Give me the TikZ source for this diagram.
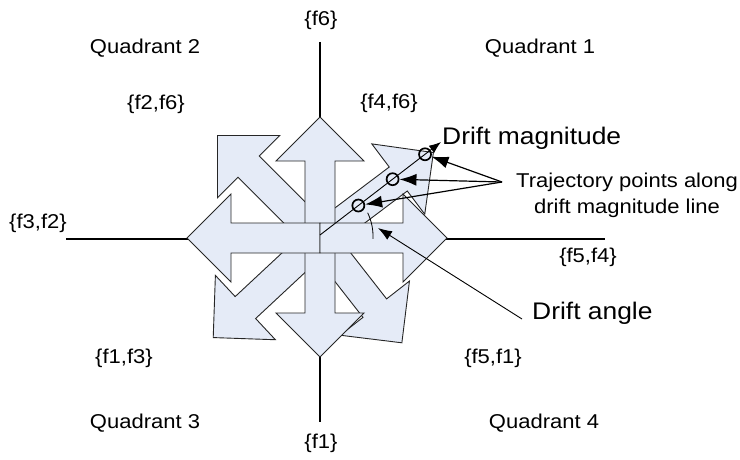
\documentclass[tikz,border=0pt]{standalone}
\usepackage{fontspec}
\setmainfont{Liberation Sans}[FakeStretch=1.1]
\usetikzlibrary{arrows.meta}

\definecolor{arrowfill}{RGB}{229,235,247}

\tikzset{
  blockarrow/.style={draw=black!85,fill=arrowfill,line width=0.9pt,line join=miter},
  axis/.style={line width=1.8pt},
  label/.style={font=\fontsize{20}{26}\selectfont,inner sep=1pt},
  biglabel/.style={font=\fontsize{24}{26}\selectfont,inner sep=1pt},
  point/.style={circle,draw,line width=1.7pt,minimum size=12pt,inner sep=0pt},
  pointer/.style={-{Latex[length=17pt,width=12pt]},line width=1.2pt},
}

\begin{document}
\begin{tikzpicture}[x=1pt,y=-1pt]
  \useasboundingbox (0,0) rectangle (740,460);
  % axes
  \draw[axis] (320,42) -- (320,422);
  \draw[axis] (66,239) -- (605,239);
  % diagonal arrows first, the four axis arrows on top
  \foreach \ang/\len in {135/145,223/146,-52/133,37/142,90/121,270/119,180/133,0/127}
    \draw[blockarrow,shift={(320,238)},rotate=\ang]
      (0,-15) -- (\len-44,-15) -- (\len-44,-44) -- (\len,0)
      -- (\len-44,44) -- (\len-44,15) -- (0,15) -- cycle;

  % axis and quadrant labels
  \node[label] (f6)   at (321,20)  {\{f6\}};
  \node[label] (f1)   at (321,443) {\{f1\}};
  \node[label] (f3f2) at (38,223)  {\{f3,f2\}};
  \node[label] (f5f4) at (588,257) {\{f5,f4\}};
  \node[label] (f2f6) at (156,104) {\{f2,f6\}};
  \node[label] (f4f6) at (389,103) {\{f4,f6\}};
  \node[label] (f1f3) at (124,358) {\{f1,f3\}};
  \node[label] (f5f1) at (493,358) {\{f5,f1\}};
  \node[label] (quad2) at (145,48)  {Quadrant 2};
  \node[label] (quad1) at (540,48)  {Quadrant 1};
  \node[label] (quad3) at (145,423) {Quadrant 3};
  \node[label] (quad4) at (544,423) {Quadrant 4};

  % drift magnitude line with trajectory points
  \coordinate (dstart) at (320,235);
  \node[biglabel,anchor=west] (dmag) at (441,138) {Drift magnitude};
  \draw[-{Latex[length=12pt,width=9pt]},line width=0.9pt] (dstart)
    -- node[point,pos=0.317] (p1) {}
       node[point,pos=0.6]   (p2) {}
       node[point,pos=0.868] (p3) {}
    ([yshift=-4pt]dmag.west);

  \node[label,align=center] (traj) at (627,195) {Trajectory points along\\drift magnitude line};
  \coordinate (tjoin) at (502,182);
  \draw[pointer] (tjoin) -- (p3);
  \draw[pointer] (tjoin) -- (p2);
  \draw[pointer] (tjoin) -- (p1);

  % drift angle
  \draw[line width=0.8pt] (320,236) ++(-26:53) arc[start angle=-26,end angle=3,radius=53];
  \coordinate (aend) at (378,228);
  \node[biglabel,anchor=west] (dangle) at (531,313) {Drift angle};
  \draw[-{Latex[length=14pt,width=10pt]},line width=0.9pt]
    ([xshift=-9pt,yshift=-6pt]dangle.west) -- (aend);
\end{tikzpicture}
\end{document}
